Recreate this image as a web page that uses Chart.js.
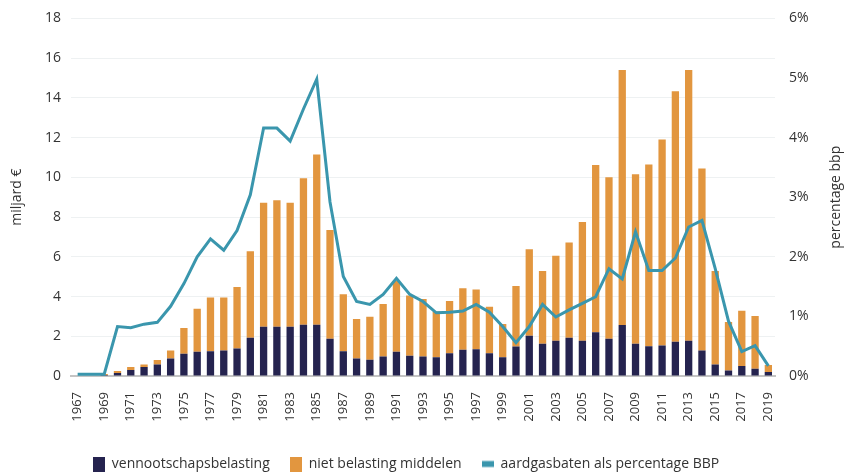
<!DOCTYPE html>
<html>
<head>
<meta charset="utf-8">
<script src="https://cdn.jsdelivr.net/npm/chart.js@4/dist/chart.umd.min.js"></script>
<style>
  html, body { margin: 0; padding: 0; background: #fff; }
  #wrap { width: 852px; height: 474px; }
</style>
</head>
<body>
<div id="wrap"><canvas id="chart"></canvas></div>
<script>
const years = []
for (let y = 1967; y <= 2019; y++) years.push(String(y))

// miljard euro
const vpb = [0, 0, 0.05, 0.15, 0.3, 0.45, 0.58, 0.88, 1.12, 1.22, 1.25, 1.28, 1.38, 1.92,
  2.48, 2.48, 2.48, 2.58, 2.58, 1.87, 1.25, 0.88, 0.82, 0.98, 1.22, 1.02, 0.98, 0.95,
  1.15, 1.32, 1.35, 1.15, 0.95, 1.48, 2.02, 1.62, 1.78, 1.92, 1.78, 2.2, 1.87, 2.57,
  1.62, 1.5, 1.53, 1.72, 1.77, 1.28, 0.58, 0.28, 0.5, 0.37, 0.2]

const totals = [0, 0, 0.1, 0.25, 0.45, 0.58, 0.8, 1.28, 2.42, 3.38, 3.95, 3.95, 4.48, 6.28,
  8.72, 8.85, 8.72, 9.95, 11.15, 7.35, 4.12, 2.87, 2.98, 3.62, 4.78, 4.05, 3.87, 3.25,
  3.78, 4.42, 4.35, 3.48, 2.62, 4.53, 6.38, 5.28, 6.05, 6.72, 7.75, 10.62, 10.0, 15.4,
  10.15, 10.65, 11.9, 14.33, 15.4, 10.45, 5.28, 2.72, 3.28, 3.02, 0.55]

const nietBelasting = totals.map((t, i) => Math.max(0, +(t - vpb[i]).toFixed(2)))

// percentage BBP
const gasPct = [0.03, 0.03, 0.03, 0.83, 0.81, 0.87, 0.9, 1.17, 1.55, 2.0, 2.3, 2.11, 2.44, 3.04,
  4.16, 4.16, 3.94, 4.48, 4.98, 2.92, 1.67, 1.25, 1.2, 1.37, 1.64, 1.37, 1.25, 1.06,
  1.07, 1.09, 1.2, 1.07, 0.83, 0.56, 0.83, 1.2, 0.99, 1.11, 1.22, 1.33, 1.8, 1.63,
  2.42, 1.77, 1.77, 1.98, 2.5, 2.61, 1.8, 0.92, 0.41, 0.51, 0.17]

const navy = '#25234f'
const orange = '#e2963f'
const teal = '#3a96ad'
const textColor = '#333333'
const font = "'Open Sans', sans-serif"

// little legend markers: squares for the bars, a flat bar for the line
function marker(color, h) {
  const c = document.createElement('canvas')
  c.width = 12
  c.height = 15
  const g = c.getContext('2d')
  g.fillStyle = color
  g.fillRect(0, (15 - h) / 2, 12, h)
  return c
}
const markers = [marker(teal, 6), marker(navy, 15), marker(orange, 15)]

// both axis titles read bottom to top
const axisTitles = {
  id: 'axisTitles',
  afterDraw(chart) {
    const g = chart.ctx
    const mid = (chart.chartArea.top + chart.chartArea.bottom) / 2
    g.save()
    g.fillStyle = textColor
    g.font = '14px ' + font
    g.textAlign = 'center'
    g.textBaseline = 'middle'
    ;[[17, 'miljard €'], [836, 'percentage bbp']].forEach(([x, t]) => {
      g.save()
      g.translate(x, mid)
      g.rotate(-Math.PI / 2)
      g.fillText(t, 0, 0)
      g.restore()
    })
    g.restore()
  }
}

// move legend a bit lower and left of where chart.js puts it
const legendShift = {
  id: 'legendShift',
  afterLayout(chart) {
    chart.legend.top += 7
    chart.legend.bottom += 7
    chart.legend.left -= 20
    chart.legend.right -= 20
  }
}

const ctx = document.getElementById('chart')

new Chart(ctx, {
  type: 'bar',
  data: {
    labels: years,
    datasets: [{
      type: 'line',
      label: 'aardgasbaten als percentage BBP',
      data: gasPct,
      yAxisID: 'y1',
      borderColor: teal,
      backgroundColor: teal,
      borderWidth: 3,
      pointRadius: 0,
      tension: 0,
      order: 0
    }, {
      label: 'vennootschapsbelasting',
      data: vpb,
      backgroundColor: navy,
      stack: 's',
      order: 1
    }, {
      label: 'niet belasting middelen',
      data: nietBelasting,
      backgroundColor: orange,
      stack: 's',
      order: 1
    }]
  },
  plugins: [axisTitles, legendShift],
  options: {
    responsive: true,
    maintainAspectRatio: false,
    animation: false,
    layout: { padding: { top: 3, bottom: 0 } },
    categoryPercentage: 1,
    barPercentage: 0.55,
    plugins: {
      tooltip: { enabled: false },
      legend: {
        position: 'bottom',
        labels: {
          usePointStyle: true,
          boxWidth: 12,
          boxHeight: 15,
          pointStyleWidth: 12,
          padding: 20,
          color: textColor,
          font: { family: font, size: 14 },
          generateLabels(chart) {
            const items = Chart.defaults.plugins.legend.labels.generateLabels(chart)
            items.forEach(it => { it.pointStyle = markers[it.datasetIndex] })
            return items
          },
          sort: (a, b) => a.datasetIndex === 0 ? 1 : b.datasetIndex === 0 ? -1 : a.datasetIndex - b.datasetIndex
        }
      }
    },
    scales: {
      x: {
        stacked: true,
        grid: { display: false },
        border: { display: true, color: '#c4c4c4', width: 2 },
        ticks: {
          autoSkip: false,
          maxRotation: 90,
          minRotation: 90,
          padding: 8,
          color: textColor,
          font: { family: font, size: 13 },
          callback: function (v, i) { return i % 2 === 0 ? this.getLabelForValue(v) : '' }
        },
        afterFit: s => { s.height = 54 }
      },
      y: {
        stacked: true,
        position: 'left',
        min: 0,
        max: 18,
        ticks: { stepSize: 2, color: textColor, padding: 10, font: { family: font, size: 14 } },
        grid: { color: '#eef1f2', drawTicks: false },
        border: { display: false },
        afterFit: s => { s.width = 71 }
      },
      y1: {
        position: 'right',
        min: 0,
        max: 6,
        ticks: { stepSize: 1, color: textColor, padding: 6, font: { family: font, size: 14 }, callback: v => v + '%' },
        grid: { display: false },
        border: { display: false },
        afterFit: s => { s.width = 77 }
      }
    }
  }
})
</script>
</body>
</html>
